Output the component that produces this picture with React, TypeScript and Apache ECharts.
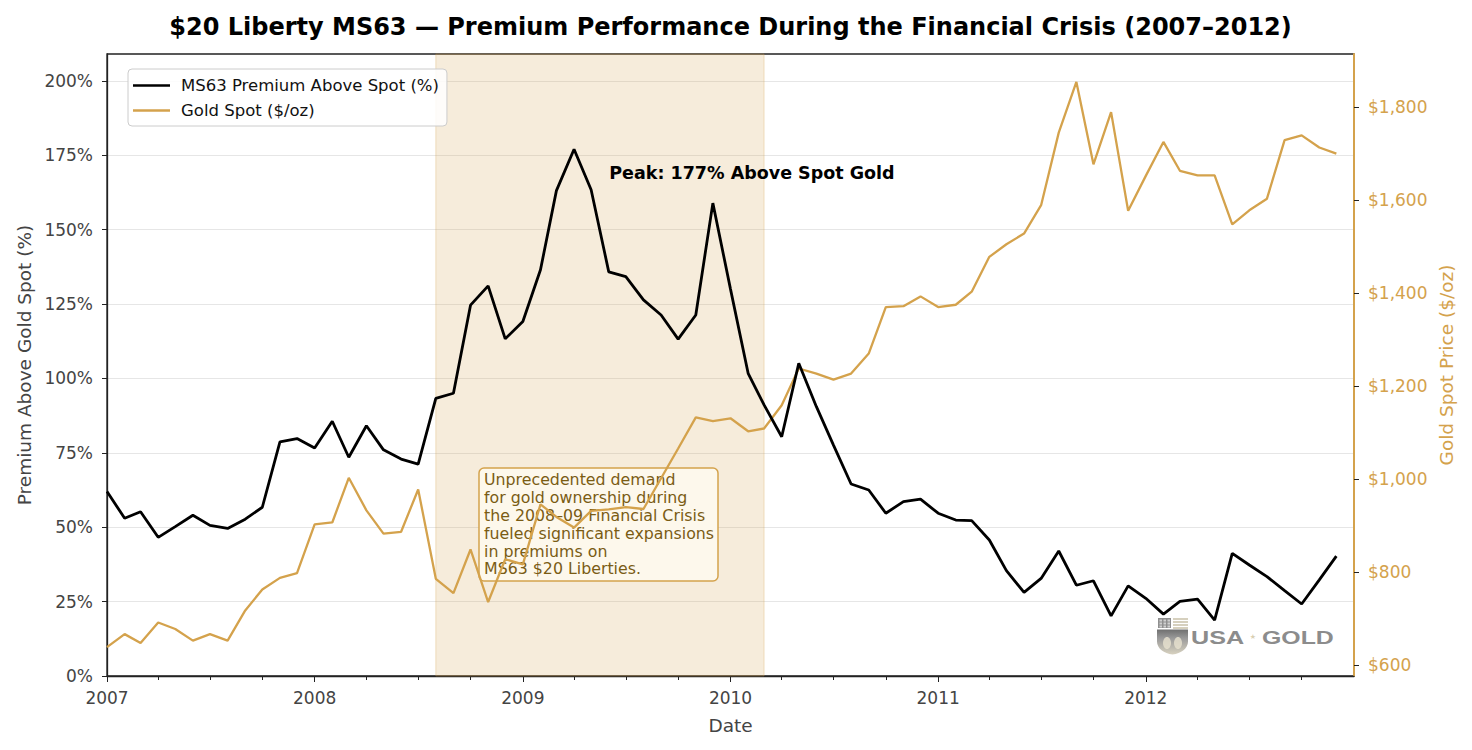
import React, { useEffect, useRef } from 'react';
import * as echarts from 'echarts';

const months = [
  '2007-01','2007-02','2007-03','2007-04','2007-05','2007-06','2007-07','2007-08','2007-09','2007-10','2007-11','2007-12',
  '2008-01','2008-02','2008-03','2008-04','2008-05','2008-06','2008-07','2008-08','2008-09','2008-10','2008-11','2008-12',
  '2009-01','2009-02','2009-03','2009-04','2009-05','2009-06','2009-07','2009-08','2009-09','2009-10','2009-11','2009-12',
  '2010-01','2010-02','2010-03','2010-04','2010-05','2010-06','2010-07','2010-08','2010-09','2010-10','2010-11','2010-12',
  '2011-01','2011-02','2011-03','2011-04','2011-05','2011-06','2011-07','2011-08','2011-09','2011-10','2011-11','2011-12',
  '2012-01','2012-02','2012-03','2012-04','2012-05','2012-06','2012-07','2012-08','2012-09','2012-10','2012-11','2012-12',
];

const premiumPct = [
  62.0, 53.0, 55.2, 46.6, 50.2, 54.0, 50.6, 49.6, 52.7, 56.7, 78.7, 79.8,
  76.6, 85.6, 73.5, 84.1, 76.0, 72.9, 71.2, 93.3, 95.0, 124.6, 131.1, 113.3,
  119.1, 136.5, 163.1, 177.0, 163.4, 135.8, 134.2, 126.4, 121.3, 113.2, 121.3, 158.9,
  130.0, 101.7, 91.1, 80.4, 105.1, 90.5, 77.6, 64.5, 62.5, 54.7, 58.6, 59.4,
  54.7, 52.4, 52.2, 45.7, 35.4, 28.1, 32.8, 42.0, 30.5, 32.0, 20.2, 30.3,
  26.1, 20.8, 25.1, 25.8, 18.8, 41.2, 37.3, 33.4, 28.7, 24.2, 32.3, 40.3,
];

const goldSpot = [
  639, 667, 648, 692, 678, 653, 667, 653, 718, 763, 788, 798,
  903, 907, 1003, 933, 883, 887, 978, 786, 755, 849, 736, 828,
  817, 946, 919, 896, 932, 935, 940, 936, 1002, 1066, 1133, 1125,
  1131, 1103, 1109, 1159, 1238, 1227, 1214, 1227, 1270, 1370, 1372, 1393,
  1370, 1375, 1403, 1478, 1505, 1528, 1589, 1745, 1854, 1677, 1789, 1577,
  1652, 1725, 1663, 1653, 1653, 1548, 1578, 1603, 1729, 1739, 1713, 1700,
];

const yearTicks = ['2007-01', '2008-01', '2009-01', '2010-01', '2011-01', '2012-01'];
const quarterTicks = [
  '2007-04','2007-07','2007-10','2008-04','2008-07','2008-10','2009-04','2009-07','2009-10',
  '2010-04','2010-07','2010-10','2011-04','2011-07','2011-10','2012-04','2012-07','2012-10',
];
const premiumTicks = [0, 25, 50, 75, 100, 125, 150, 175, 200];
const goldTicks = [600, 800, 1000, 1200, 1400, 1600, 1800];

const xStart = '2007-01';
const xEnd = '2013-01';
const premiumMax = 209;
const goldMin = 577;
const goldMax = 1914;

const crisisStart = '2008-08';
const crisisEnd = '2010-03';
const peakLabelMonth = '2009-06';
const peakLabelValue = 169;
const peakText = 'Peak: 177% Above Spot Gold';
const noteText = [
  'Unprecedented demand',
  'for gold ownership during',
  'the 2008\u201309 Financial Crisis',
  'fueled significant expansions',
  'in premiums on',
  'MS63 $20 Liberties.',
].join('\n');

const TITLE = '$20 Liberty MS63 \u2014 Premium Performance During the Financial Crisis (2007\u20132012)';
const FONT = 'DejaVu Sans';
const GOLD = '#D4A24C';

const ts = (m: string) => new Date(m + '-01T00:00:00').getTime();

echarts.graphic.registerShape(
  'shieldBase',
  echarts.graphic.extendPath('M0 0 L31 0 L31 12 C31 19 24 24 15.5 25 C7 24 0 19 0 12 Z', {})
);

export default function App() {
  const ref = useRef<HTMLDivElement>(null);

  useEffect(() => {
    if (!ref.current) return;
    const chart = echarts.init(ref.current, undefined, { renderer: 'svg' });

    const option: any = {
      animation: false,
      backgroundColor: '#ffffff',
      textStyle: { fontFamily: FONT },
      title: {
        text: TITLE,
        left: 725.5,
        top: 10,
        textAlign: 'center',
        textStyle: { fontFamily: FONT, fontSize: 24, fontWeight: 'bold', color: '#000' },
      },
      grid: {
        left: 107,
        right: 118,
        top: 54,
        bottom: 74,
        show: true,
        borderColor: '#222',
        borderWidth: 1.3,
        backgroundColor: 'transparent',
      },
      legend: {
        data: [
          { name: 'MS63 Premium Above Spot (%)', icon: 'rect' },
          { name: 'Gold Spot ($/oz)', icon: 'rect' },
        ],
        orient: 'vertical',
        left: 128,
        top: 69,
        itemWidth: 37,
        itemHeight: 2.6,
        itemGap: 8,
        padding: [8, 8, 7, 5],
        backgroundColor: 'rgba(255,255,255,0.85)',
        borderColor: '#cccccc',
        borderWidth: 1,
        borderRadius: 4,
        textStyle: { fontFamily: FONT, fontSize: 16.5, color: '#111', padding: [0, 0, 0, 6] },
      },
      xAxis: [
        {
          type: 'value',
          min: ts(xStart),
          max: ts(xEnd),
          axisLine: { show: true, lineStyle: { color: '#222', width: 1.3 } },
          axisTick: { show: true, customValues: yearTicks.map(ts), length: 6, lineStyle: { color: '#222', width: 1 } },
          axisLabel: {
            customValues: yearTicks.map(ts),
            formatter: (v: number) => String(new Date(v).getFullYear()),
            color: '#444',
            fontSize: 17,
            fontFamily: FONT,
            margin: 13,
          },
          splitLine: { show: false },
        },
        {
          type: 'value',
          min: ts(xStart),
          max: ts(xEnd),
          position: 'bottom',
          axisLine: { show: false },
          axisTick: { show: true, customValues: quarterTicks.map(ts), length: 4, lineStyle: { color: '#222', width: 1 } },
          axisLabel: { show: false },
          splitLine: { show: false },
        },
      ],
      yAxis: [
        {
          type: 'value',
          min: 0,
          max: premiumMax,
          interval: 25,
          axisLine: { show: true, lineStyle: { color: '#222', width: 1.3 } },
          axisTick: { show: true, customValues: premiumTicks, length: 5, lineStyle: { color: '#222', width: 1 } },
          axisLabel: {
            customValues: premiumTicks,
            formatter: (v: number) => v + '%',
            color: '#444',
            fontSize: 17,
            fontFamily: FONT,
            margin: 14,
          },
          splitLine: { show: true, lineStyle: { color: '#e6e6e6', width: 1 } },
        },
        {
          type: 'value',
          position: 'right',
          min: goldMin,
          max: goldMax,
          axisLine: { show: true, lineStyle: { color: GOLD, width: 2 } },
          axisTick: { show: true, customValues: goldTicks, length: 5, lineStyle: { color: '#222', width: 1 } },
          axisLabel: {
            customValues: goldTicks,
            formatter: (v: number) => '$' + v.toLocaleString('en-US'),
            color: GOLD,
            fontSize: 17,
            fontFamily: FONT,
            margin: 14,
          },
          splitLine: { show: false },
        },
      ],
      series: [
        {
          name: 'crisis',
          type: 'line',
          data: [],
          z: 1,
          silent: true,
          markArea: {
            silent: true,
            itemStyle: { color: 'rgba(212,162,76,0.2)', borderColor: 'rgba(212,162,76,0.3)', borderWidth: 1 },
            data: [[{ xAxis: ts(crisisStart) }, { xAxis: ts(crisisEnd) }]],
          },
        },
        {
          name: 'Gold Spot ($/oz)',
          type: 'line',
          yAxisIndex: 1,
          data: months.map((m, i) => [ts(m), goldSpot[i]]),
          symbol: 'none',
          lineStyle: { color: GOLD, width: 2.3 },
          itemStyle: { color: GOLD },
          z: 4,
        },
        {
          name: 'MS63 Premium Above Spot (%)',
          type: 'line',
          yAxisIndex: 0,
          data: months.map((m, i) => [ts(m), premiumPct[i]]),
          symbol: 'none',
          lineStyle: { color: '#000', width: 2.8 },
          itemStyle: { color: '#000' },
          z: 5,
          markPoint: {
            silent: true,
            data: [
              {
                coord: [ts(peakLabelMonth), peakLabelValue],
                symbol: 'circle',
                symbolSize: 1,
                itemStyle: { color: 'rgba(0,0,0,0)' },
                label: {
                  show: true,
                  position: 'right',
                  distance: 0,
                  formatter: peakText,
                  fontFamily: FONT,
                  fontWeight: 'bold',
                  fontSize: 17.5,
                  color: '#000',
                },
              },
            ],
          },
        },
      ],
      graphic: [
        {
          type: 'text',
          x: 24,
          y: 365,
          rotation: Math.PI / 2,
          style: { text: 'Premium Above Gold Spot (%)', fontFamily: FONT, fontSize: 18.5, fill: '#444', align: 'center', verticalAlign: 'middle' },
        },
        {
          type: 'text',
          x: 1446,
          y: 365,
          rotation: Math.PI / 2,
          style: { text: 'Gold Spot Price ($/oz)', fontFamily: FONT, fontSize: 18.5, fill: GOLD, align: 'center', verticalAlign: 'middle' },
        },
        {
          type: 'text',
          x: 730.5,
          y: 725,
          style: { text: 'Date', fontFamily: FONT, fontSize: 18.5, fill: '#444', align: 'center', verticalAlign: 'middle' },
        },
        {
          type: 'rect',
          z: 3,
          shape: { x: 479, y: 468, width: 239, height: 113, r: 5 },
          style: { fill: '#FDF8EC', stroke: GOLD, lineWidth: 1.5 },
        },
        {
          type: 'text',
          z: 3,
          x: 484,
          y: 471,
          style: { text: noteText, fontFamily: FONT, fontSize: 15.8, lineHeight: 17.8, fill: '#7A5C14', align: 'left', verticalAlign: 'top' },
        },
        {
          type: 'group',
          z: 3,
          children: [
            { type: 'rect', shape: { x: 1158, y: 618, width: 13, height: 10 }, style: { fill: '#8f8f8f' } },
            { type: 'rect', shape: { x: 1159.5, y: 619.5, width: 2.5, height: 2 }, style: { fill: '#d0d0d0' } },
            { type: 'rect', shape: { x: 1163.5, y: 619.5, width: 2.5, height: 2 }, style: { fill: '#d0d0d0' } },
            { type: 'rect', shape: { x: 1167.5, y: 619.5, width: 2.5, height: 2 }, style: { fill: '#d0d0d0' } },
            { type: 'rect', shape: { x: 1159.5, y: 622.5, width: 2.5, height: 2 }, style: { fill: '#d0d0d0' } },
            { type: 'rect', shape: { x: 1163.5, y: 622.5, width: 2.5, height: 2 }, style: { fill: '#d0d0d0' } },
            { type: 'rect', shape: { x: 1167.5, y: 622.5, width: 2.5, height: 2 }, style: { fill: '#d0d0d0' } },
            { type: 'rect', shape: { x: 1159.5, y: 625.5, width: 2.5, height: 2 }, style: { fill: '#d0d0d0' } },
            { type: 'rect', shape: { x: 1163.5, y: 625.5, width: 2.5, height: 2 }, style: { fill: '#d0d0d0' } },
            { type: 'rect', shape: { x: 1167.5, y: 625.5, width: 2.5, height: 2 }, style: { fill: '#d0d0d0' } },
            { type: 'line', shape: { x1: 1173, y1: 619, x2: 1188, y2: 619 }, style: { stroke: '#c8c0a8', lineWidth: 1.5 } },
            { type: 'line', shape: { x1: 1173, y1: 622, x2: 1188, y2: 622 }, style: { stroke: '#c8c0a8', lineWidth: 1.5 } },
            { type: 'line', shape: { x1: 1173, y1: 625, x2: 1188, y2: 625 }, style: { stroke: '#c8c0a8', lineWidth: 1.5 } },
            { type: 'line', shape: { x1: 1173, y1: 628, x2: 1188, y2: 628 }, style: { stroke: '#c8c0a8', lineWidth: 1.5 } },
            {
              type: 'shieldBase',
              x: 1157,
              y: 629.5,
              style: {
                fill: new echarts.graphic.LinearGradient(0, 0, 0, 1, [
                  { offset: 0, color: '#6f6f6f' },
                  { offset: 0.35, color: '#9a9a9a' },
                  { offset: 1, color: '#d8d2c0' },
                ]),
              },
            },
            { type: 'ellipse', shape: { cx: 1167, cy: 643, rx: 4, ry: 6 }, style: { fill: '#e8e2d0', opacity: 0.8 } },
            { type: 'ellipse', shape: { cx: 1178, cy: 643, rx: 4, ry: 6 }, style: { fill: '#e8e2d0', opacity: 0.8 } },
            {
              type: 'text',
              x: 1191,
              y: 637.5,
              scaleX: 1.4,
              style: { text: 'USA', fontFamily: 'Liberation Sans', fontWeight: 'bold', fontSize: 18, fill: '#8c8c8c', align: 'left', verticalAlign: 'middle' },
            },
            {
              type: 'text',
              x: 1253,
              y: 637,
              style: { text: '\u2605', fontFamily: FONT, fontSize: 7, fill: '#d9cfb3', align: 'center', verticalAlign: 'middle' },
            },
            {
              type: 'text',
              x: 1262,
              y: 637.5,
              scaleX: 1.38,
              style: { text: 'GOLD', fontFamily: 'Liberation Sans', fontWeight: 'bold', fontSize: 18, fill: '#8c8c8c', align: 'left', verticalAlign: 'middle' },
            },
          ],
        },
      ],
    };

    chart.setOption(option);
    return () => chart.dispose();
  }, []);

  return (
    <div
      ref={ref}
      style={{ position: 'fixed', left: 0, top: 0, width: 1472, height: 750, background: '#fff' }}
    />
  );
}
